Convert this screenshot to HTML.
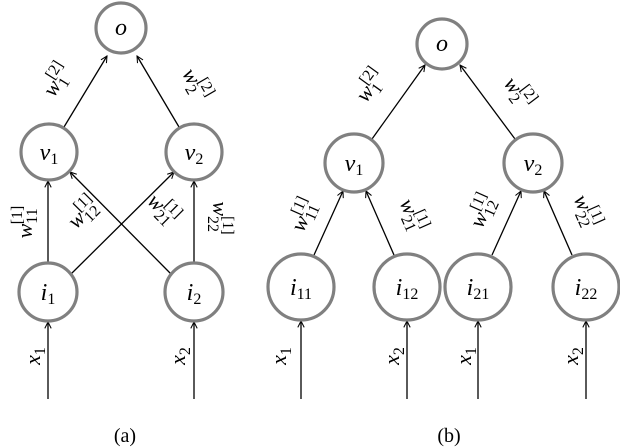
<!DOCTYPE html>
<html><head><meta charset="utf-8"><style>
html,body{margin:0;padding:0;background:#fff;}
svg{display:block;}
text{font-family:"Liberation Serif",serif;font-style:italic;fill:#000;}
.n{font-size:24px;}
.l{font-size:22px;}
.s{font-size:16px;font-style:normal;}
.si{font-size:15px;}
</style></head><body>
<svg width="620" height="448" viewBox="0 0 620 448" xmlns="http://www.w3.org/2000/svg">
<defs>
<marker id="a" viewBox="0 0 10 10" refX="9" refY="5" markerWidth="8" markerHeight="8" markerUnits="userSpaceOnUse" orient="auto">
<path d="M1,1 L9,5 L1,9" fill="none" stroke="#000" stroke-width="1.3"/>
</marker>
</defs>
<g stroke="#000" stroke-width="1.3" fill="none" marker-end="url(#a)">
<!-- (a) -->
<line x1="48" y1="399" x2="48" y2="322"/>
<line x1="194" y1="399" x2="194" y2="322"/>
<line x1="48" y1="263" x2="48" y2="181"/>
<line x1="194" y1="263" x2="194" y2="181"/>
<line x1="70" y1="275" x2="174" y2="172"/>
<line x1="172" y1="275" x2="70" y2="172"/>
<line x1="64" y1="127" x2="107" y2="56"/>
<line x1="179" y1="127" x2="137" y2="56"/>
<!-- (b) -->
<line x1="301" y1="399" x2="301" y2="321"/>
<line x1="407" y1="399" x2="407" y2="321"/>
<line x1="478" y1="399" x2="478" y2="321"/>
<line x1="586" y1="399" x2="586" y2="321"/>
<line x1="314" y1="255" x2="343" y2="191"/>
<line x1="394" y1="255" x2="366" y2="191"/>
<line x1="492" y1="255" x2="521" y2="191"/>
<line x1="572" y1="255" x2="544" y2="191"/>
<line x1="372" y1="139" x2="425" y2="65"/>
<line x1="515" y1="139" x2="460" y2="65"/>
</g>
<g stroke="#808080" stroke-width="3.2" fill="#fff">
<circle cx="121" cy="28" r="25"/>
<circle cx="49" cy="152" r="28"/>
<circle cx="194" cy="152" r="28"/>
<circle cx="48" cy="292" r="29"/>
<circle cx="194" cy="292" r="29"/>
<circle cx="442" cy="44" r="25"/>
<circle cx="354" cy="163" r="29"/>
<circle cx="533" cy="163" r="29"/>
<circle cx="301" cy="287" r="33"/>
<circle cx="407" cy="287" r="33"/>
<circle cx="478" cy="287" r="33"/>
<circle cx="586" cy="287" r="33"/>
</g>
<!-- node labels -->
<g class="n" text-anchor="middle">
<text x="121" y="35">o</text>
<text x="49" y="160">v<tspan class="s" dy="4">1</tspan></text>
<text x="194" y="160">v<tspan class="s" dy="4">2</tspan></text>
<text x="48" y="300">i<tspan class="s" dy="4">1</tspan></text>
<text x="194" y="300">i<tspan class="s" dy="4">2</tspan></text>
<text x="442" y="51">o</text>
<text x="354" y="171">v<tspan class="s" dy="4">1</tspan></text>
<text x="533" y="171">v<tspan class="s" dy="4">2</tspan></text>
<text x="301" y="295">i<tspan class="s" dy="4">11</tspan></text>
<text x="407" y="295">i<tspan class="s" dy="4">12</tspan></text>
<text x="478" y="295">i<tspan class="s" dy="4">21</tspan></text>
<text x="586" y="295">i<tspan class="s" dy="4">22</tspan></text>
</g>
<!-- edge labels -->
<g class="l" text-anchor="middle">
<text transform="translate(63,84) rotate(-58)">w<tspan class="s" dy="5">1</tspan><tspan class="s" dx="-8" dy="-15">[2]</tspan></text>
<text transform="translate(190,88) rotate(60)">w<tspan class="s" dy="5">2</tspan><tspan class="s" dx="-8" dy="-15">[2]</tspan></text>
<text transform="translate(32,222) rotate(-90)">w<tspan class="s" dy="5">11</tspan><tspan class="s" dx="-16" dy="-15">[1]</tspan></text>
<text transform="translate(88,218) rotate(-45)">w<tspan class="s" dy="5">12</tspan><tspan class="s" dx="-16" dy="-15">[1]</tspan></text>
<text transform="translate(158,214) rotate(45)">w<tspan class="s" dy="5">21</tspan><tspan class="s" dx="-16" dy="-15">[1]</tspan></text>
<text transform="translate(213,218) rotate(90)">w<tspan class="s" dy="5">22</tspan><tspan class="s" dx="-16" dy="-15">[1]</tspan></text>
<text transform="translate(376,90) rotate(-54)">w<tspan class="s" dy="5">1</tspan><tspan class="s" dx="-8" dy="-15">[2]</tspan></text>
<text transform="translate(513,97) rotate(53)">w<tspan class="s" dy="5">2</tspan><tspan class="s" dx="-8" dy="-15">[2]</tspan></text>
<text transform="translate(310,218) rotate(-66)">w<tspan class="s" dy="5">11</tspan><tspan class="s" dx="-16" dy="-15">[1]</tspan></text>
<text transform="translate(406,218) rotate(66)">w<tspan class="s" dy="5">21</tspan><tspan class="s" dx="-16" dy="-15">[1]</tspan></text>
<text transform="translate(489,214) rotate(-66)">w<tspan class="s" dy="5">12</tspan><tspan class="s" dx="-16" dy="-15">[1]</tspan></text>
<text transform="translate(580,214) rotate(66)">w<tspan class="s" dy="5">22</tspan><tspan class="s" dx="-16" dy="-15">[1]</tspan></text>
<text transform="translate(40,356) rotate(-90)">x<tspan class="s" dy="5">1</tspan></text>
<text transform="translate(185,356) rotate(-90)">x<tspan class="s" dy="5">2</tspan></text>
<text transform="translate(286,356) rotate(-90)">x<tspan class="s" dy="5">1</tspan></text>
<text transform="translate(399,356) rotate(-90)">x<tspan class="s" dy="5">2</tspan></text>
<text transform="translate(471,356) rotate(-90)">x<tspan class="s" dy="5">1</tspan></text>
<text transform="translate(578,356) rotate(-90)">x<tspan class="s" dy="5">2</tspan></text>
</g>
<text x="125" y="442" text-anchor="middle" style="font-style:normal;font-size:20px">(a)</text>
<text x="449" y="442" text-anchor="middle" style="font-style:normal;font-size:20px">(b)</text>
</svg>
</body></html>
